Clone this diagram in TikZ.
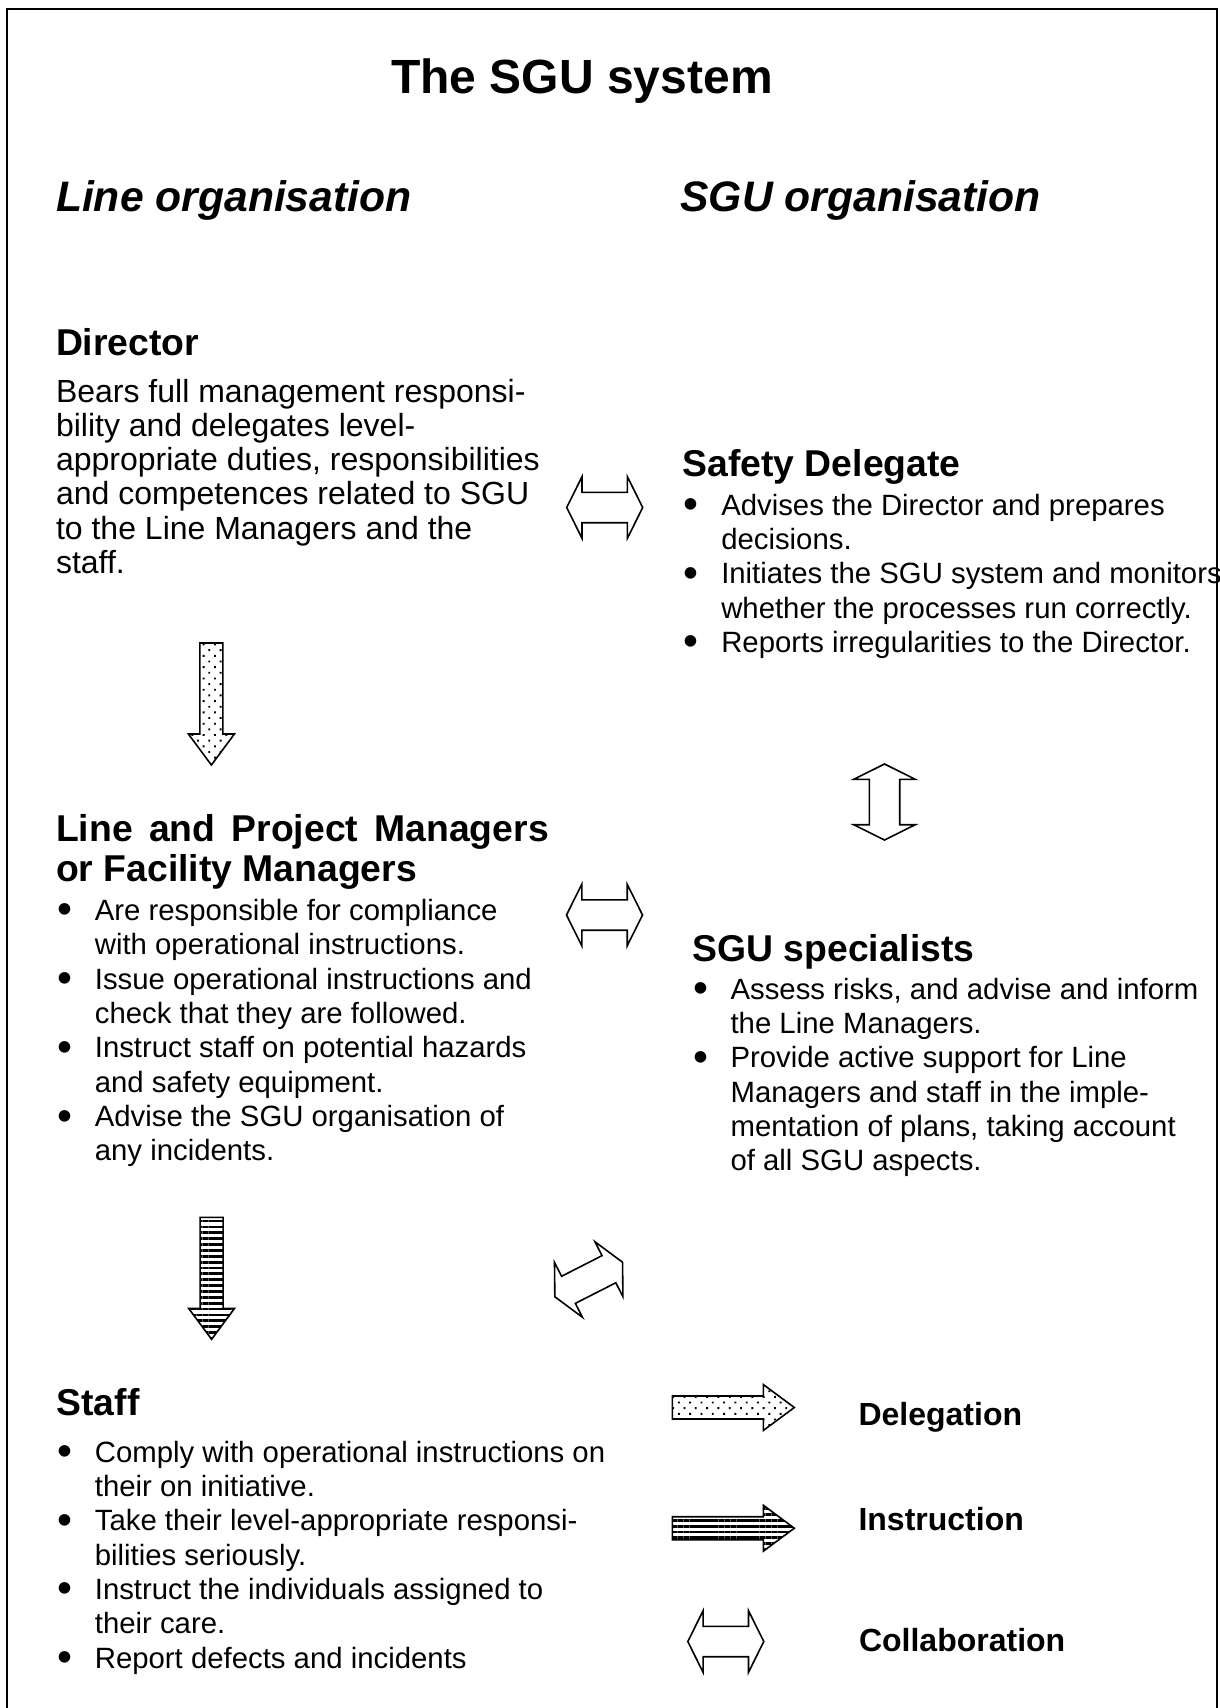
\documentclass[tikz,border=0pt]{standalone}
\usepackage{fontspec}
\setmainfont{Liberation Sans}
\usetikzlibrary{patterns.meta}

\newcommand{\bul}{\makebox[14pt][l]{\raisebox{-1.3pt}{\fontsize{16}{16}\selectfont\textbullet}}}
\newcommand{\ind}{\hspace*{14pt}}

\begin{document}
\begin{tikzpicture}[
            x=0.375pt, y=-0.375pt,
            txt/.style={anchor=base west, inner sep=0pt, text width=420pt, align=left,
                execute at begin node={\spaceskip=0pt\xspaceskip=0pt\relax}},
            titletext/.style={anchor=base, inner sep=0pt, font=\fontsize{18}{21.6}\selectfont\bfseries},
            colhead/.style={txt, font=\fontsize{16}{19}\selectfont\bfseries\itshape},
            blockhead/.style={txt, font=\fontsize{14}{15.1}\selectfont\bfseries},
            blocktext/.style={txt, font=\fontsize{12}{12.85}\selectfont},
            bullettext/.style={txt, font=\fontsize{11}{12.88}\selectfont},
            legendtext/.style={txt, font=\fontsize{12}{14}\selectfont\bfseries},
            outline/.style={draw=black, line width=0.6pt},
            delegation/.style={outline, pattern={Dots[angle=45, distance=3pt, radius=0.5pt]}},
            instruction/.style={outline, pattern={Lines[angle=0, distance=2.2pt, line width=1.05pt]}},
            rarrow/.pic={\path[pic actions] (0,-11.5) -- (91,-11.5) -- (91,-23) -- (122,0) -- (91,23) -- (91,11.5) -- (0,11.5) -- cycle;},
            darrow/.pic={\path[pic actions] (-11.5,0) -- (-11.5,91) -- (-23,91) -- (0,122) -- (23,91) -- (11.5,91) -- (11.5,0) -- cycle;},
            dblarrow/.pic={\path[pic actions] (-38,0) -- (-22.7,-30.8) -- (-22.7,-15.2) -- (22.7,-15.2) -- (22.7,-30.8) -- (38,0)
                -- (22.7,30.8) -- (22.7,15.2) -- (-22.7,15.2) -- (-22.7,30.8) -- cycle;}
        ]
        \useasboundingbox (0,0) rectangle (1220,1708);
        \draw[line width=0.75pt] (7,9) rectangle (1217.3,1730);

        % --- Headings ---
        \node[titletext] (title) at (582,93.5) {The SGU system};
        \node[colhead] (lineorg) at (55.5,211) {Line organisation};
        \node[colhead] (sguorg) at (680,211) {SGU organisation};

        % --- Line organisation ---
        \node[blockhead] (director) at (55.5,355) {Director};
        \node[blocktext] (dirtext) at (55.5,402) {Bears full management responsi-\\
            bility and delegates level-\\
            appropriate duties, responsibilities\\
            and competences related to SGU\\
            to the Line Managers and the\\
            staff.};

        \node[blockhead] (managers) at (55.5,841) {\makebox[184.8pt][s]{Line and Project Managers}\\or Facility Managers};
        \node[bullettext] (mantext) at (57,920.5) {\bul Are responsible for compliance\\
            \ind with operational instructions.\\
            \bul Issue operational instructions and\\
            \ind check that they are followed.\\
            \bul Instruct staff on potential hazards\\
            \ind and safety equipment.\\
            \bul Advise the SGU organisation of\\
            \ind any incidents.};

        \node[blockhead] (staff) at (56,1415) {Staff};
        \node[bullettext] (stafftext) at (57,1462) {\bul Comply with operational instructions on\\
            \ind their on initiative.\\
            \bul Take their level-appropriate responsi-\\
            \ind bilities seriously.\\
            \bul Instruct the individuals assigned to\\
            \ind their care.\\
            \bul Report defects and incidents};

        % --- SGU organisation ---
        \node[blockhead] (safety) at (682,476) {Safety Delegate};
        \node[bullettext] (safetytext) at (683.4,515) {\bul Advises the Director and prepares\\
            \ind decisions.\\
            \bul Initiates the SGU system and monitors\\
            \ind whether the processes run correctly.\\
            \bul Reports irregularities to the Director.};

        \node[blockhead] (specialists) at (692,961) {SGU specialists};
        \node[bullettext] (spectext) at (692.7,999) {\bul Assess risks, and advise and inform\\
            \ind the Line Managers.\\
            \bul Provide active support for Line\\
            \ind Managers and staff in the imple-\\
            \ind mentation of plans, taking account\\
            \ind of all SGU aspects.};

        % --- Legend ---
        \node[legendtext] (legdeleg) at (858,1425) {Delegation};
        \node[legendtext] (leginstr) at (858,1530.5) {Instruction};
        \node[legendtext] (legcollab) at (858.5,1651.5) {Collaboration};

        % --- Block arrows ---
        \pic[delegation] at (211.4,643) {darrow};
        \pic[instruction] at (211.6,1217.3) {darrow};
        \pic[outline] at (604.7,507.5) {dblarrow};
        \pic[outline] at (604.5,915) {dblarrow};
        \pic[outline, rotate=90] at (884.5,802) {dblarrow};
        \pic[outline, rotate=27] at (588.7,1279.5) {dblarrow};

        \pic[delegation] at (672.3,1407.5) {rarrow};
        \pic[instruction] at (672.3,1528.2) {rarrow};
        \pic[outline] at (725.8,1641.5) {dblarrow};

\end{tikzpicture}
\end{document}
